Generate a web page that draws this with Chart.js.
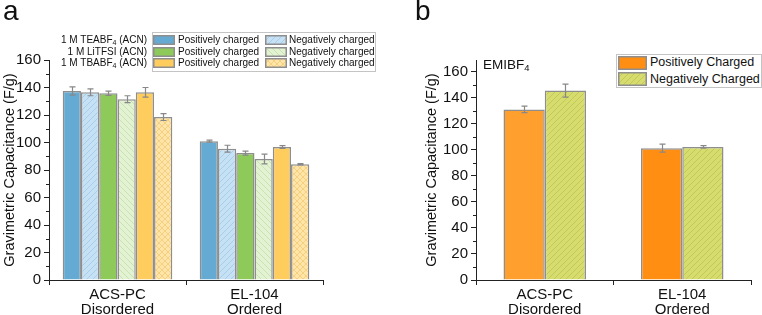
<!DOCTYPE html>
<html>
<head>
<meta charset="utf-8">
<script src="https://cdn.jsdelivr.net/npm/chart.js@4/dist/chart.umd.min.js"></script>
<style>
  body { margin: 0; width: 762px; height: 315px; position: relative; background: #fff; overflow: hidden;
         font-family: 'Liberation Sans', Arial, sans-serif; color: #111; }
  canvas.chart { position: absolute; top: 0; }
  .txt { position: absolute; white-space: nowrap; }
  .panel { font-size: 28px; line-height: 28px; }
  .box { position: absolute; border: 1px solid #c4c4c4; background: #fff; box-sizing: border-box; }
  sub { font-size: 0.7em; vertical-align: -0.25em; line-height: 0; }
</style>
</head>
<body>
<canvas id="chartA" class="chart" width="390" height="315" style="left:0"></canvas>
<canvas id="chartB" class="chart" width="367" height="315" style="left:395px"></canvas>
<div class="txt panel" style="left:3px;top:-3px">a</div>
<div class="txt panel" style="left:415px;top:-3px">b</div>
<div class="txt" style="left:483px;top:57px;font-size:13.5px">EMIBF<sub>4</sub></div>
<div id="legends"></div>
<script>
// categories on the x axis
const categories = [['ACS-PC', 'Disordered'], ['EL-104', 'Ordered']];

// panel a: gravimetric capacitance (F/g) and error half-widths
const teaPos = [137.5, 101.0], teaPosErr = [3.0, 0.7];
const teaNeg = [136.5, 95.5],  teaNegErr = [2.5, 2.5];
const litPos = [135.8, 92.3],  litPosErr = [1.5, 1.5];
const litNeg = [131.5, 88.0],  litNegErr = [2.5, 3.5];
const tbaPos = [136.5, 96.8],  tbaPosErr = [3.5, 1.0];
const tbaNeg = [118.5, 84.2],  tbaNegErr = [2.5, 0.4];
const electrolytesA = ['1 M TEABF<sub>4</sub> (ACN)', '1 M LiTFSI (ACN)', '1 M TBABF<sub>4</sub> (ACN)'];

// panel b: EMIBF4
const emiPos = [131.0, 101.3], emiPosErr = [2.5, 3.0];
const emiNeg = [145.5, 102.2], emiNegErr = [5.0, 1.0];

const yTicksA = [0, 20, 40, 60, 80, 100, 120, 140, 160];
const yTicksB = [0, 20, 40, 60, 80, 100, 120, 140, 160];

function hatchTile(bg, fg, kind) {
  const s = 6;
  const c = document.createElement('canvas');
  c.width = c.height = s;
  const g = c.getContext('2d');
  g.fillStyle = bg;
  g.fillRect(0, 0, s, s);
  g.strokeStyle = fg;
  g.lineWidth = 1;
  g.beginPath();
  if (kind === '/' || kind === 'x') {
    g.moveTo(0, s); g.lineTo(s, 0);
    g.moveTo(-1, 1); g.lineTo(1, -1);
    g.moveTo(s - 1, s + 1); g.lineTo(s + 1, s - 1);
  }
  if (kind === '\\' || kind === 'x') {
    g.moveTo(0, 0); g.lineTo(s, s);
    g.moveTo(s - 1, -1); g.lineTo(s + 1, 1);
    g.moveTo(-1, s - 1); g.lineTo(1, s + 1);
  }
  g.stroke();
  return c;
}

const ctxA = document.getElementById('chartA').getContext('2d');
const ctxB = document.getElementById('chartB').getContext('2d');

const fills = {
  teaPos: '#64AAD2',
  teaNeg: hatchTile('#C6E0F4', '#A6CDEB', '/'),
  litPos: '#8DCA5A',
  litNeg: hatchTile('#E2F2D2', '#C6E4AF', '\\'),
  tbaPos: '#FFCC5E',
  tbaNeg: hatchTile('#FFE5A8', '#F6D080', 'x'),
  emiPos: ['#FFA02E', '#FF8E12'],
  emiNeg: hatchTile('#D6DC6E', '#C3C956', '/')
};
function paint(ctx, f) {
  if (typeof f === 'string' || Array.isArray(f)) return f;
  return ctx.createPattern(f, 'repeat');
}

const errorBars = {
  id: 'errorBars',
  afterDatasetsDraw(chart) {
    const ctx = chart.ctx, y = chart.scales.y;
    ctx.save();
    ctx.strokeStyle = '#888';
    ctx.lineWidth = 1.2;
    chart.data.datasets.forEach((ds, i) => {
      if (!ds.errors) return;
      chart.getDatasetMeta(i).data.forEach((bar, j) => {
        const v = ds.data[j], e = ds.errors[j];
        const top = y.getPixelForValue(v + e), bot = y.getPixelForValue(v - e);
        const x = Math.round(bar.x) + 0.5;
        ctx.beginPath();
        ctx.moveTo(x, top); ctx.lineTo(x, bot);
        ctx.moveTo(x - 3, top); ctx.lineTo(x + 3, top);
        ctx.moveTo(x - 3, bot); ctx.lineTo(x + 3, bot);
        ctx.stroke();
      });
    });
    ctx.restore();
  }
};

const minorTicks = {
  id: 'minorTicks',
  afterDraw(chart) {
    const ctx = chart.ctx, y = chart.scales.y, left = chart.chartArea.left;
    ctx.save();
    ctx.strokeStyle = '#222';
    ctx.lineWidth = 1;
    for (let v = 10; v <= y.max; v += 20) {
      const p = Math.round(y.getPixelForValue(v)) + 0.5;
      ctx.beginPath();
      ctx.moveTo(left - 3, p); ctx.lineTo(left, p);
      ctx.stroke();
    }
    ctx.restore();
  }
};

function makeChart(ctx, datasets, cfg) {
  return new Chart(ctx, {
    type: 'bar',
    data: { labels: categories, datasets },
    options: {
      responsive: false,
      animation: false,
      layout: { padding: { left: cfg.padLeft, right: cfg.padRight, top: 60, bottom: 0 } },
      plugins: { legend: { display: false }, tooltip: { enabled: false } },
      datasets: { bar: { categoryPercentage: cfg.catPct, barPercentage: 1, borderColor: '#8e8e8e', borderWidth: 1.5 } },
      scales: {
        x: {
          grid: { drawOnChartArea: false, tickLength: 5, tickColor: '#222' },
          border: { color: '#222', width: 1 },
          ticks: { color: '#111', font: { family: "'Liberation Sans', Arial", size: 15, lineHeight: 1 }, padding: 2, maxRotation: 0 },
          afterFit(s) { s.height = 35; }
        },
        y: {
          min: 0, max: cfg.max,
          grid: { drawOnChartArea: false, tickLength: 5, tickColor: '#222' },
          border: { color: '#222', width: 1 },
          ticks: { stepSize: 20, color: '#111', font: { family: "'Liberation Sans', Arial", size: 15 }, padding: 3 },
          afterBuildTicks(s) { s.ticks = cfg.ticks.map(v => ({ value: v })); },
          afterFit(s) { s.width = cfg.yWidth; },
          title: { display: true, text: 'Gravimetric Capacitance (F/g)', color: '#111', padding: 0,
                   font: { family: "'Liberation Sans', Arial", size: 14.5 } }
        }
      }
    },
    plugins: [errorBars, minorTicks]
  });
}

const dsA = [
  { label: 'TEABF4 pos', data: teaPos, errors: teaPosErr, backgroundColor: paint(ctxA, fills.teaPos) },
  { label: 'TEABF4 neg', data: teaNeg, errors: teaNegErr, backgroundColor: paint(ctxA, fills.teaNeg) },
  { label: 'LiTFSI pos', data: litPos, errors: litPosErr, backgroundColor: paint(ctxA, fills.litPos) },
  { label: 'LiTFSI neg', data: litNeg, errors: litNegErr, backgroundColor: paint(ctxA, fills.litNeg) },
  { label: 'TBABF4 pos', data: tbaPos, errors: tbaPosErr, backgroundColor: paint(ctxA, fills.tbaPos) },
  { label: 'TBABF4 neg', data: tbaNeg, errors: tbaNegErr, backgroundColor: paint(ctxA, fills.tbaNeg) }
];
const dsB = [
  { label: 'Positively Charged', data: emiPos, errors: emiPosErr, backgroundColor: paint(ctxB, fills.emiPos) },
  { label: 'Negatively Charged', data: emiNeg, errors: emiNegErr, backgroundColor: paint(ctxB, fills.emiNeg) }
];

makeChart(ctxA, dsA, { padLeft: 1, padRight: 67, yWidth: 48, max: 160, catPct: 0.8, ticks: yTicksA });
makeChart(ctxB, dsB, { padLeft: 28, padRight: 11, yWidth: 53, max: 169, catPct: 0.6, ticks: yTicksB });

// legends (HTML, swatches painted with the same fills)
const host = document.getElementById('legends');
function swatch(x, y, w, h, f) {
  const c = document.createElement('canvas');
  c.width = w; c.height = h;
  c.style.cssText = `position:absolute;left:${x}px;top:${y}px`;
  const g = c.getContext('2d');
  g.fillStyle = Array.isArray(f) ? f[f.length - 1] : paint(g, f);
  g.fillRect(0, 0, w, h);
  g.strokeStyle = '#8e8e8e';
  g.lineWidth = 1.5;
  g.strokeRect(0.75, 0.75, w - 1.5, h - 1.5);
  host.appendChild(c);
}
function text(x, y, html, size, extra) {
  const d = document.createElement('div');
  d.className = 'txt';
  d.innerHTML = html;
  d.style.cssText += `left:${x}px;top:${y}px;font-size:${size}px;line-height:${size}px;` + (extra || '');
  host.appendChild(d);
  return d;
}
function box(x, y, w, h) {
  const d = document.createElement('div');
  d.className = 'box';
  d.style.cssText = `left:${x}px;top:${y}px;width:${w}px;height:${h}px`;
  host.appendChild(d);
}

box(152, 32, 224, 40);
const rowFillsA = [[fills.teaPos, fills.teaNeg], [fills.litPos, fills.litNeg], [fills.tbaPos, fills.tbaNeg]];
electrolytesA.forEach((name, r) => {
  const cy = 40 + r * 11.7;
  text(0, cy - 5, name, 10, 'width:147px;text-align:right;');
  swatch(153, Math.round(cy - 5), 22, 10, rowFillsA[r][0]);
  text(178, cy - 5, 'Positively charged', 10);
  swatch(265, Math.round(cy - 5), 22, 10, rowFillsA[r][1]);
  text(289, cy - 5, 'Negatively charged', 10);
});

box(616, 54, 146, 34);
[['Positively Charged', fills.emiPos], ['Negatively Charged', fills.emiNeg]].forEach(([name, f], r) => {
  const cy = 62.5 + r * 16.5;
  swatch(618, Math.round(cy - 7), 29, 14, f);
  text(650, cy - 6.5, name, 12.5);
});
</script>
</body>
</html>
